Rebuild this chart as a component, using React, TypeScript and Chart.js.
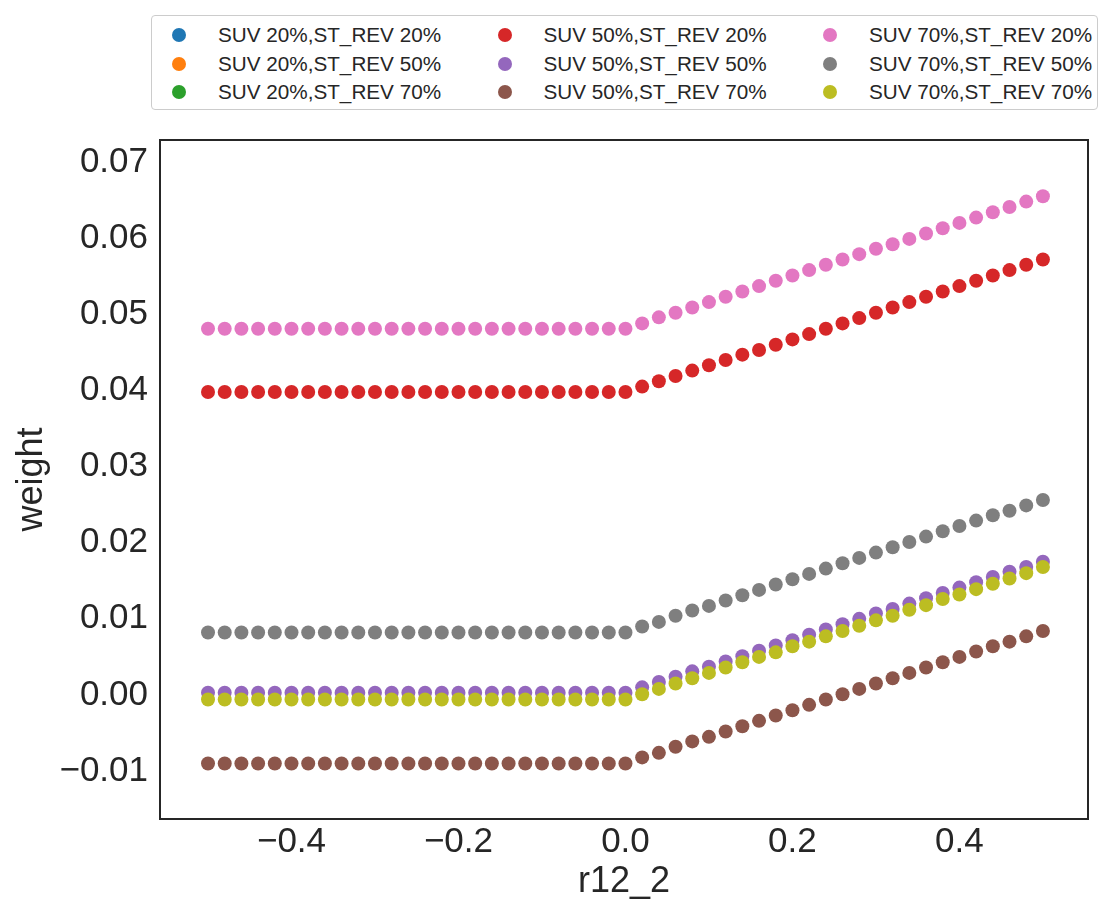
import React, { useEffect, useRef } from "react";
import { Chart, registerables } from "chart.js";

Chart.register(...registerables);

// r12_2 sample points
const rValues = [
  -0.5, -0.48, -0.46, -0.44, -0.42, -0.4, -0.38, -0.36, -0.34, -0.32,
  -0.3, -0.28, -0.26, -0.24, -0.22, -0.2, -0.18, -0.16, -0.14, -0.12,
  -0.1, -0.08, -0.06, -0.04, -0.02, 0.0, 0.02, 0.04, 0.06, 0.08,
  0.1, 0.12, 0.14, 0.16, 0.18, 0.2, 0.22, 0.24, 0.26, 0.28,
  0.3, 0.32, 0.34, 0.36, 0.38, 0.4, 0.42, 0.44, 0.46, 0.48, 0.5,
];

// weights per scenario (SUV 20% scenarios carry no points)
const suv20Rev20: number[] = [];
const suv20Rev50: number[] = [];
const suv20Rev70: number[] = [];

const suv50Rev20 = [
  0.0398, 0.0398, 0.0398, 0.0398, 0.0398, 0.0398, 0.0398, 0.0398, 0.0398, 0.0398,
  0.0398, 0.0398, 0.0398, 0.0398, 0.0398, 0.0398, 0.0398, 0.0398, 0.0398, 0.0398,
  0.0398, 0.0398, 0.0398, 0.0398, 0.0398, 0.0398, 0.0405, 0.0412, 0.0419, 0.0426,
  0.0433, 0.044, 0.0447, 0.0453, 0.046, 0.0467, 0.0474, 0.0481, 0.0488, 0.0495,
  0.0502, 0.0509, 0.0516, 0.0523, 0.053, 0.0537, 0.0544, 0.0551, 0.0558, 0.0565, 0.0572,
];

const suv50Rev50 = [
  0.0003, 0.0003, 0.0003, 0.0003, 0.0003, 0.0003, 0.0003, 0.0003, 0.0003, 0.0003,
  0.0003, 0.0003, 0.0003, 0.0003, 0.0003, 0.0003, 0.0003, 0.0003, 0.0003, 0.0003,
  0.0003, 0.0003, 0.0003, 0.0003, 0.0003, 0.0003, 0.001, 0.0017, 0.0024, 0.0031,
  0.0037, 0.0044, 0.0051, 0.0058, 0.0065, 0.0072, 0.0079, 0.0086, 0.0093, 0.01,
  0.0107, 0.0113, 0.012, 0.0127, 0.0134, 0.0141, 0.0148, 0.0155, 0.0162, 0.0168, 0.0175,
];

const suv50Rev70 = [
  -0.009, -0.009, -0.009, -0.009, -0.009, -0.009, -0.009, -0.009, -0.009, -0.009,
  -0.009, -0.009, -0.009, -0.009, -0.009, -0.009, -0.009, -0.009, -0.009, -0.009,
  -0.009, -0.009, -0.009, -0.009, -0.009, -0.009, -0.0082, -0.0076, -0.0068, -0.0061,
  -0.0055, -0.0048, -0.0041, -0.0034, -0.0027, -0.002, -0.0013, -0.0006, 0.0001, 0.0008,
  0.0015, 0.0022, 0.0029, 0.0036, 0.0043, 0.005, 0.0057, 0.0064, 0.007, 0.0077, 0.0084,
];

const suv70Rev20 = [
  0.0481, 0.0481, 0.0481, 0.0481, 0.0481, 0.0481, 0.0481, 0.0481, 0.0481, 0.0481,
  0.0481, 0.0481, 0.0481, 0.0481, 0.0481, 0.0481, 0.0481, 0.0481, 0.0481, 0.0481,
  0.0481, 0.0481, 0.0481, 0.0481, 0.0481, 0.0481, 0.0488, 0.0496, 0.0502, 0.0509,
  0.0516, 0.0523, 0.053, 0.0537, 0.0544, 0.0551, 0.0558, 0.0565, 0.0572, 0.0579,
  0.0586, 0.0592, 0.0599, 0.0606, 0.0613, 0.062, 0.0627, 0.0634, 0.0641, 0.0648, 0.0655,
];

const suv70Rev50 = [
  0.0082, 0.0082, 0.0082, 0.0082, 0.0082, 0.0082, 0.0082, 0.0082, 0.0082, 0.0082,
  0.0082, 0.0082, 0.0082, 0.0082, 0.0082, 0.0082, 0.0082, 0.0082, 0.0082, 0.0082,
  0.0082, 0.0082, 0.0082, 0.0082, 0.0082, 0.0082, 0.009, 0.0096, 0.0104, 0.0111,
  0.0117, 0.0124, 0.0131, 0.0138, 0.0145, 0.0152, 0.0159, 0.0166, 0.0173, 0.018,
  0.0187, 0.0194, 0.0201, 0.0208, 0.0215, 0.0222, 0.0229, 0.0236, 0.0242, 0.0249, 0.0256,
];

const suv70Rev70 = [
  -0.0006, -0.0006, -0.0006, -0.0006, -0.0006, -0.0006, -0.0006, -0.0006, -0.0006, -0.0006,
  -0.0006, -0.0006, -0.0006, -0.0006, -0.0006, -0.0006, -0.0006, -0.0006, -0.0006, -0.0006,
  -0.0006, -0.0006, -0.0006, -0.0006, -0.0006, -0.0006, 0.0001, 0.0008, 0.0015, 0.0022,
  0.0029, 0.0036, 0.0043, 0.005, 0.0056, 0.0064, 0.007, 0.0077, 0.0084, 0.0091,
  0.0098, 0.0104, 0.0112, 0.0118, 0.0126, 0.0132, 0.0139, 0.0146, 0.0153, 0.016, 0.0168,
];

const seriesLabels = [
  "SUV 20%,ST_REV 20%",
  "SUV 20%,ST_REV 50%",
  "SUV 20%,ST_REV 70%",
  "SUV 50%,ST_REV 20%",
  "SUV 50%,ST_REV 50%",
  "SUV 50%,ST_REV 70%",
  "SUV 70%,ST_REV 20%",
  "SUV 70%,ST_REV 50%",
  "SUV 70%,ST_REV 70%",
];

const seriesValues = [
  suv20Rev20, suv20Rev50, suv20Rev70,
  suv50Rev20, suv50Rev50, suv50Rev70,
  suv70Rev20, suv70Rev50, suv70Rev70,
];

const seriesColors = [
  "#1f77b4", "#ff7f0e", "#2ca02c",
  "#d62728", "#9467bd", "#8c564b",
  "#e377c2", "#7f7f7f", "#bcbd22",
];

const xTicks = [-0.4, -0.2, 0.0, 0.2, 0.4];
const yTicks = [-0.01, 0.0, 0.01, 0.02, 0.03, 0.04, 0.05, 0.06, 0.07];

const FONT = "'Liberation Sans', Arial, sans-serif";
const INK = "#262626";

const fmt = (v: number, digits: number) => {
  const s = Math.abs(v) < 1e-9 ? (0).toFixed(digits) : v.toFixed(digits);
  return s.replace("-", "\u2212");
};

const framePlugin = {
  id: "frame",
  afterDraw(chart: any) {
    const { ctx, chartArea: a } = chart;
    ctx.save();
    ctx.strokeStyle = INK;
    ctx.lineWidth = 2;
    ctx.strokeRect(a.left, a.top, a.right - a.left, a.bottom - a.top);
    ctx.restore();
  },
};

function Legend() {
  return (
    <div
      style={{
        position: "absolute",
        left: 151,
        top: 15,
        width: 947,
        height: 95,
        boxSizing: "border-box",
        border: "1px solid #cccccc",
        borderRadius: 4,
        background: "#ffffff",
        fontFamily: FONT,
        fontSize: 20.7,
        color: INK,
      }}
    >
      {seriesLabels.map((label, i) => {
        const col = Math.floor(i / 3);
        const row = i % 3;
        return (
          <div
            key={label}
            style={{
              position: "absolute",
              left: 20 + col * 325.5,
              top: 5 + row * 28.5,
              height: 28,
              display: "flex",
              alignItems: "center",
              whiteSpace: "nowrap",
            }}
          >
            <span
              style={{
                display: "inline-block",
                width: 14,
                height: 14,
                borderRadius: "50%",
                background: seriesColors[i],
                marginRight: 32,
              }}
            />
            <span>{label}</span>
          </div>
        );
      })}
    </div>
  );
}

export default function App() {
  const canvasRef = useRef<HTMLCanvasElement | null>(null);

  useEffect(() => {
    const canvas = canvasRef.current;
    if (!canvas) return;
    const datasets = seriesLabels.map((label, i) => ({
      label,
      data: seriesValues[i].map((y, k) => ({ x: rValues[k], y })),
      backgroundColor: seriesColors[i],
      borderColor: seriesColors[i],
      borderWidth: 0,
      pointRadius: 7,
      pointHoverRadius: 7,
      order: seriesLabels.length - i,
    }));

    const chart = new Chart(canvas, {
      type: "scatter",
      data: { datasets },
      plugins: [framePlugin],
      options: {
        animation: false,
        responsive: false,
        devicePixelRatio: 1,
        layout: { padding: { left: 0, top: 140, right: 27, bottom: 0 } },
        plugins: {
          legend: { display: false },
          tooltip: { enabled: false },
        },
        scales: {
          x: {
            type: "linear",
            min: -0.5575,
            max: 0.554,
            grid: { display: false, drawTicks: false },
            border: { display: false },
            afterBuildTicks: (s: any) => {
              s.ticks = xTicks.map((v) => ({ value: v }));
            },
            afterFit: (s: any) => {
              s.height = 101;
            },
            ticks: {
              autoSkip: false,
              maxRotation: 0,
              padding: 2,
              color: INK,
              font: { family: FONT, size: 35 },
              callback: (v: any) => fmt(Number(v), 1),
            },
            title: {
              display: true,
              text: "r12_2",
              color: INK,
              font: { family: FONT, size: 36 },
              padding: { top: 16, bottom: 16 },
            },
          },
          y: {
            type: "linear",
            min: -0.01629,
            max: 0.07289,
            grid: { display: false, drawTicks: false },
            border: { display: false },
            afterBuildTicks: (s: any) => {
              s.ticks = yTicks.map((v) => ({ value: v }));
            },
            afterFit: (s: any) => {
              s.width = 160;
            },
            ticks: {
              autoSkip: false,
              padding: 12,
              color: INK,
              font: { family: FONT, size: 35 },
              callback: (v: any) => fmt(Number(v), 2),
            },
            title: {
              display: true,
              text: "weight",
              color: INK,
              font: { family: FONT, size: 36 },
              padding: { top: 10, bottom: 10 },
            },
          },
        },
      },
    });
    return () => chart.destroy();
  }, []);

  return (
    <div
      style={{
        position: "absolute",
        left: 0,
        top: 0,
        width: 1115,
        height: 920,
        background: "#ffffff",
      }}
    >
      <canvas ref={canvasRef} width={1115} height={920} style={{ display: "block" }} />
      <Legend />
    </div>
  );
}
